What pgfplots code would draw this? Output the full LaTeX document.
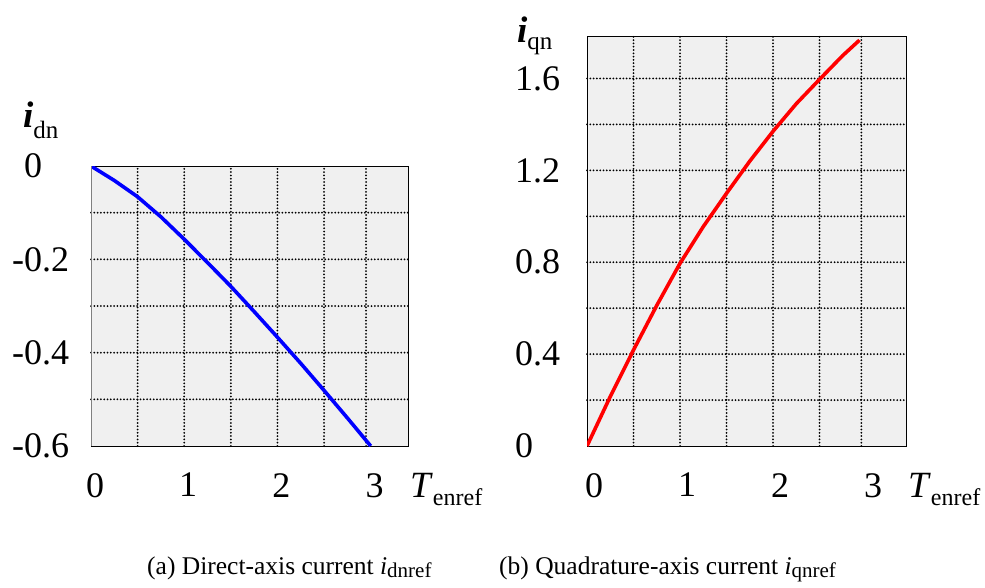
\documentclass[border=0pt]{standalone}
\usepackage{fontspec}
\setmainfont{Liberation Serif}
\usepackage{pgfplots}
\pgfplotsset{compat=1.18}
\definecolor{bgray}{RGB}{240,240,240}
\begin{document}
\begin{tikzpicture}
\useasboundingbox (0,0) rectangle (985pt,-588pt);
\pgfplotsset{
 common/.style={
  scale only axis,
  axis background/.style={fill=bgray},
  axis line style={black,line width=0.8pt},
  major tick length=0pt, minor tick length=0pt,
  tick style={draw=none},
  grid=minor,
  minor grid style={black,line width=2pt,line cap=round,dash pattern=on 0pt off 3.3pt},
  x tick label style={font=\fontsize{36}{36}\selectfont, anchor=north, inner sep=0pt, yshift=-27pt, xshift=4pt},
  y tick label style={font=\fontsize{36}{36}\selectfont, anchor=west, inner sep=0pt},
  xtick={0,1,2,3}, xticklabels={0,1,2,3},
  minor xtick={0.5,1,1.5,2,2.5,2.95},
 }
}
% left axis
\begin{axis}[common,
  at={(91pt,-446pt)}, anchor=south west,
  width=317pt, height=280pt,
  xmin=0, xmax=3.4, ymin=-0.6, ymax=0,
  ytick={-0.6,-0.4,-0.2,0},
  yticklabels={-0.6,-0.4,-0.2,\phantom{-}0},
  minor ytick={-0.5,-0.4,-0.3,-0.2,-0.1},
  y tick label style={xshift=-79pt},
]
\addplot[blue, line width=3.6pt] coordinates {
(0,0) (0.25,-0.031) (0.5,-0.066) (0.75,-0.109) (1,-0.157) (1.25,-0.207)
(1.5,-0.258) (1.75,-0.312) (2,-0.367) (2.25,-0.423) (2.5,-0.481)
(2.75,-0.54) (3.0,-0.6)};
\draw[gray, line width=1.6pt] (rel axis cs:0,0) -- (rel axis cs:0,1);
\end{axis}
% right axis
\begin{axis}[common,
  at={(587pt,-446pt)}, anchor=south west,
  width=319pt, height=410pt,
  xmin=0, xmax=3.43, ymin=0, ymax=1.785,
  ytick={0,0.4,0.8,1.2,1.6},
  yticklabels={0,0.4,0.8,1.2,1.6},
  minor ytick={0.2,0.4,0.6,0.8,1.0,1.2,1.4,1.6},
  y tick label style={xshift=-72pt},
  x tick label style={xshift=3pt},
]
\addplot[red, line width=3.6pt] coordinates {
(0,0) (0.25,0.215) (0.5,0.418) (0.75,0.612) (1,0.795) (1.25,0.955)
(1.5,1.10) (1.75,1.24) (2,1.37) (2.25,1.49) (2.5,1.596) (2.75,1.70) (2.93,1.767)};
\end{axis}
% axis labels
\node[anchor=base west, inner sep=0pt] at (23pt,-128pt)
  {\fontsize{37}{37}\selectfont\textbf{\textit{i}}\raisebox{-11pt}{\fontsize{25}{25}\selectfont dn}};
\node[anchor=base west, inner sep=0pt] at (517pt,-43pt)
  {\fontsize{37}{37}\selectfont\textbf{\textit{i}}\raisebox{-7pt}{\fontsize{25}{25}\selectfont qn}};
\node[anchor=base west, inner sep=0pt] at (410pt,-497pt)
  {\fontsize{37}{37}\selectfont\textit{T}\raisebox{-8pt}{\fontsize{24}{24}\selectfont enref}};
\node[anchor=base west, inner sep=0pt] at (908pt,-497pt)
  {\fontsize{37}{37}\selectfont\textit{T}\raisebox{-8pt}{\fontsize{24}{24}\selectfont enref}};
% captions
\node[anchor=base west, inner sep=0pt] at (147pt,-574pt)
  {\fontsize{25.5}{25.5}\selectfont (a) Direct-axis current \textit{i}\raisebox{-3pt}{\fontsize{21}{21}\selectfont dnref}};
\node[anchor=base west, inner sep=0pt] at (499pt,-574pt)
  {\fontsize{25.5}{25.5}\selectfont (b) Quadrature-axis current \textit{i}\raisebox{-3pt}{\fontsize{21}{21}\selectfont qnref}};
\end{tikzpicture}
\end{document}
